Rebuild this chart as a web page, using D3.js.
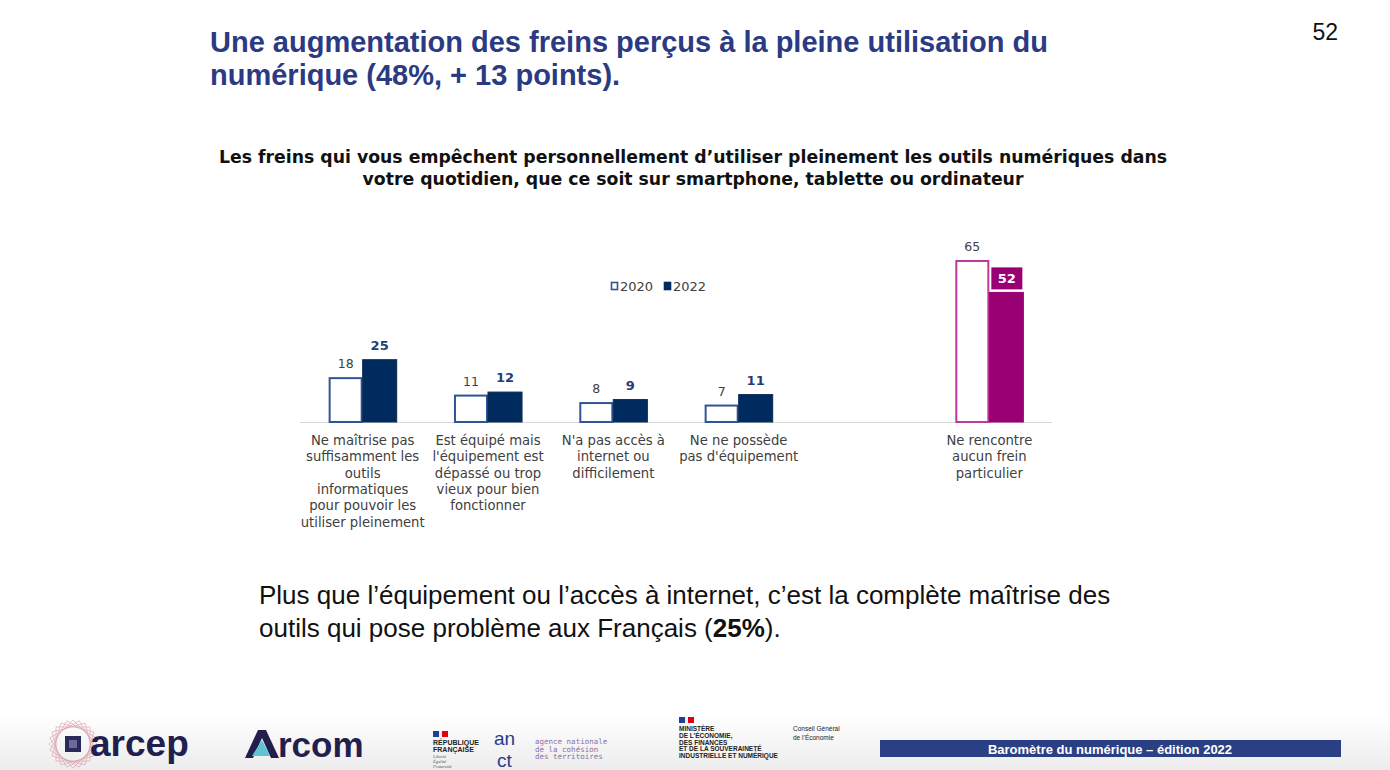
<!DOCTYPE html>
<html><head><meta charset="utf-8">
<script src="https://cdn.jsdelivr.net/npm/d3@7"></script>
<style>html,body{margin:0;padding:0;background:#fff;overflow:hidden}</style>
</head><body>
<svg id="chart" width="1390" height="770"></svg>
<script>
// ---- data ----
const categories = [
  ["Ne maîtrise pas","suffisamment les","outils","informatiques","pour pouvoir les","utiliser pleinement"],
  ["Est équipé mais","l'équipement est","dépassé ou trop","vieux pour bien","fonctionner"],
  ["N'a pas accès à","internet ou","difficilement"],
  ["Ne ne possède","pas d'équipement"],
  ["Ne rencontre","aucun frein","particulier"]
];
const categoryKeys = ["maitrise","depasse","acces","equipement","aucun"];
const seriesNames = ["2020","2022"];
const values2020 = [18, 11, 8, 7, 65];
const values2022 = [25, 12, 9, 11, 52];
const titleLines = ["Une augmentation des freins perçus à la pleine utilisation du","numérique (48%, + 13 points)."];
const subtitleLines = ["Les freins qui vous empêchent personnellement d’utiliser pleinement les outils numériques dans","votre quotidien, que ce soit sur smartphone, tablette ou ordinateur"];

const svg = d3.select("#chart");
// bottom faint gradient
const defs = svg.append("defs");
const g = defs.append("linearGradient").attr("id","bg").attr("x1",0).attr("y1",0).attr("x2",0).attr("y2",1);
g.append("stop").attr("offset","0%").attr("stop-color","#ffffff");
g.append("stop").attr("offset","100%").attr("stop-color","#ececec");
svg.append("rect").attr("x",0).attr("y",715).attr("width",1390).attr("height",55).attr("fill","url(#bg)");

// title
svg.append("g").selectAll("text").data(titleLines).join("text")
  .attr("x",210).attr("y",(d,i)=>52+i*33)
  .attr("font-family","Liberation Sans, Arial, sans-serif").attr("font-weight","bold")
  .attr("font-size",29).attr("fill","#2B3A82").text(d=>d);
svg.append("text").attr("x",1338).attr("y",40).attr("text-anchor","end")
  .attr("font-family","Liberation Sans, Arial, sans-serif").attr("font-size",23).attr("fill","#111").text("52");

// subtitle
svg.append("g").selectAll("text").data(subtitleLines).join("text")
  .attr("x",693).attr("y",(d,i)=>163+i*22).attr("text-anchor","middle")
  .attr("font-family","DejaVu Sans, Verdana, sans-serif").attr("font-weight","bold")
  .attr("font-size",17.3).attr("fill","#111").text(d=>d);

// ---- chart ----
const slots = [...categoryKeys.slice(0,4), "gap", categoryKeys[4]];
const x = d3.scaleBand().domain(slots).range([300,1052]).paddingInner(0.457).paddingOuter(0.2285);
const xs = d3.scaleBand().domain(seriesNames).range([0, x.bandwidth()]);
const y = d3.scaleLinear().domain([0,65]).range([422,260]);

const rows = categoryKeys.map((k,i)=>({key:k, lines:categories[i], v:[values2020[i], values2022[i]], special: k==="aucun"}));

const chart = svg.append("g");
chart.append("line").attr("x1",300).attr("x2",1052).attr("y1",y(0)+0.5).attr("y2",y(0)+0.5)
  .attr("stroke","#d9d9d9").attr("stroke-width",1.2);

const grp = chart.selectAll("g.cat").data(rows).join("g").attr("class","cat")
  .attr("transform",d=>`translate(${x(d.key)},0)`);

// 2020 bars (outlined)
grp.append("rect")
  .attr("x",xs("2020")+1).attr("width",xs.bandwidth()-2)
  .attr("y",d=>y(d.v[0])+1).attr("height",d=>y(0)-y(d.v[0])-1)
  .attr("fill","#fff")
  .attr("stroke",d=>d.special?"#C0399A":"#2F5597").attr("stroke-width",2);
// 2022 bars (filled)
grp.append("rect")
  .attr("x",xs("2022")).attr("width",xs.bandwidth())
  .attr("y",d=>y(d.v[1])).attr("height",d=>y(0)-y(d.v[1]))
  .attr("fill",d=>d.special?"#990073":"#002B5F")
  .attr("stroke",d=>d.special?"#990073":"#0b2a55").attr("stroke-width",1);

// value labels 2020
grp.append("text")
  .attr("x",xs("2020")+xs.bandwidth()/2).attr("y",d=>y(d.v[0])-9)
  .attr("text-anchor","middle").attr("font-family","DejaVu Sans, Verdana, sans-serif")
  .attr("font-size",12.5).attr("fill","#404040").text(d=>d.v[0]);
// value labels 2022
grp.filter(d=>!d.special).append("text")
  .attr("x",xs("2022")+xs.bandwidth()/2).attr("y",d=>y(d.v[1])-10)
  .attr("text-anchor","middle").attr("font-family","DejaVu Sans, Verdana, sans-serif")
  .attr("font-weight","bold").attr("font-size",13).attr("fill","#1F3F74").text(d=>d.v[1]);
const sp = grp.filter(d=>d.special);
sp.append("rect")
  .attr("x",xs("2022")+2).attr("width",xs.bandwidth()-3)
  .attr("y",d=>y(d.v[1])-25).attr("height",22).attr("fill","#990073");
sp.append("text")
  .attr("x",xs("2022")+xs.bandwidth()/2+0.5).attr("y",d=>y(d.v[1])-9)
  .attr("text-anchor","middle").attr("font-family","DejaVu Sans, Verdana, sans-serif")
  .attr("font-weight","bold").attr("font-size",13).attr("fill","#fff").text(d=>d.v[1]);

// category labels
grp.append("text").attr("font-family","DejaVu Sans, Verdana, sans-serif").attr("font-size",13.2)
  .attr("fill","#404040").attr("text-anchor","middle")
  .selectAll("tspan").data(d=>d.lines).join("tspan")
  .attr("x",x.bandwidth()/2).attr("y",(d,i)=>445+i*16.3).text(d=>d);

// legend
const leg = svg.append("g").attr("transform","translate(610,280)");
const legItems = seriesNames.map((s,i)=>({s, x:i*53}));
const li = leg.selectAll("g").data(legItems).join("g").attr("transform",d=>`translate(${d.x},0)`);
li.append("rect").attr("x",1.5).attr("y",2.5).attr("width",6).attr("height",7)
  .attr("fill",(d,i)=>i?"#002B5F":"#fff").attr("stroke",(d,i)=>i?"#002B5F":"#2F5597").attr("stroke-width",1.6);
li.append("text").attr("x",10).attr("y",10.5).attr("font-family","DejaVu Sans, Verdana, sans-serif")
  .attr("font-size",13).attr("fill","#404040").text(d=>d.s);

// bottom comment
const cm = svg.append("g").attr("font-family","Liberation Sans, Arial, sans-serif").attr("font-size",26).attr("fill","#111");
cm.append("text").attr("x",259).attr("y",604).text("Plus que l’équipement ou l’accès à internet, c’est la complète maîtrise des");
const t2 = cm.append("text").attr("x",259).attr("y",637);
t2.append("tspan").text("outils qui pose problème aux Français (");
t2.append("tspan").attr("font-weight","bold").text("25%");
t2.append("tspan").text(").");

// ---- footer ----
const f = svg.append("g");
// arcep icon
const ic = f.append("g").attr("transform","translate(73,744)");
[0,15,30,45,60,75].forEach(a=>ic.append("rect").attr("x",-17).attr("y",-17).attr("width",34).attr("height",34)
  .attr("fill","none").attr("stroke","#d88a9a").attr("stroke-width",0.6).attr("opacity",0.8).attr("transform",`rotate(${a})`));
ic.append("rect").attr("x",-8).attr("y",-8).attr("width",16).attr("height",16).attr("fill","#2a2a5a");
ic.append("rect").attr("x",-4).attr("y",-4).attr("width",8).attr("height",8).attr("fill","#6a6aa0");
f.append("text").attr("x",90).attr("y",756).attr("font-family","Liberation Sans, Arial, sans-serif")
  .attr("font-weight","bold").attr("font-size",37).attr("fill","#221f4f").text("arcep");
// arcom
f.append("path").attr("d","M245,758 L258,730 L266,730 L279,758 L271,758 L262,738 L253,758 Z").attr("fill","#221f4f");
f.append("path").attr("d","M252,756 L262,740 L270,756 Z").attr("fill","#5fc4cf");
f.append("text").attr("x",278).attr("y",757).attr("font-family","Liberation Sans, Arial, sans-serif")
  .attr("font-weight","bold").attr("font-size",35).attr("fill","#221f4f").text("rcom");
// Republique française
function flag(xp,yp){
  f.append("rect").attr("x",xp).attr("y",yp).attr("width",6).attr("height",6).attr("fill","#1f3f9a");
  f.append("rect").attr("x",xp+6).attr("y",yp).attr("width",3).attr("height",6).attr("fill","#eee");
  f.append("rect").attr("x",xp+9).attr("y",yp).attr("width",6).attr("height",6).attr("fill","#e1000f");
}
flag(433,731);
f.append("text").attr("font-family","Liberation Sans, Arial, sans-serif").attr("font-weight","bold").attr("font-size",7).attr("fill","#222")
  .selectAll("tspan").data(["RÉPUBLIQUE","FRANÇAISE"]).join("tspan").attr("x",433).attr("y",(d,i)=>745+i*7).text(d=>d);
f.append("text").attr("font-family","Liberation Serif, serif").attr("font-style","italic").attr("font-size",4.5).attr("fill","#555")
  .selectAll("tspan").data(["Liberté","Égalité","Fraternité"]).join("tspan").attr("x",433).attr("y",(d,i)=>758+i*5).text(d=>d);
f.append("text").attr("x",494).attr("y",745).attr("font-family","Liberation Sans, Arial, sans-serif").attr("font-size",19).attr("fill","#2b3a8c").text("an");
f.append("text").attr("x",497).attr("y",767).attr("font-family","Liberation Sans, Arial, sans-serif").attr("font-size",19).attr("fill","#2b3a8c").text("ct");
f.append("text").attr("font-family","DejaVu Sans Mono, monospace").attr("font-size",7.5).attr("fill","#8a6fa8")
  .selectAll("tspan").data(["agence nationale","de la cohésion","des territoires"]).join("tspan").attr("x",535).attr("y",(d,i)=>744+i*7.5).text(d=>d);
// Ministère
flag(679,717);
f.append("text").attr("font-family","Liberation Sans, Arial, sans-serif").attr("font-weight","bold").attr("font-size",6.5).attr("fill","#222")
  .selectAll("tspan").data(["MINISTÈRE","DE L’ÉCONOMIE,","DES FINANCES","ET DE LA SOUVERAINETÉ","INDUSTRIELLE ET NUMÉRIQUE"]).join("tspan")
  .attr("x",679).attr("y",(d,i)=>731+i*6.8).text(d=>d);
f.append("text").attr("font-family","Liberation Sans, Arial, sans-serif").attr("font-size",6.5).attr("fill","#222")
  .selectAll("tspan").data(["Conseil Général","de l’Économie"]).join("tspan").attr("x",793).attr("y",(d,i)=>731+i*9).text(d=>d);
// banner
f.append("rect").attr("x",880).attr("y",740).attr("width",461).attr("height",17).attr("fill","#2B3F84");
f.append("text").attr("x",1110).attr("y",753.5).attr("text-anchor","middle")
  .attr("font-family","Liberation Sans Narrow, Liberation Sans, Arial, sans-serif").attr("font-weight","bold")
  .attr("font-size",13).attr("fill","#fff").text("Baromètre  du numérique – édition 2022");
</script>
</body></html>
